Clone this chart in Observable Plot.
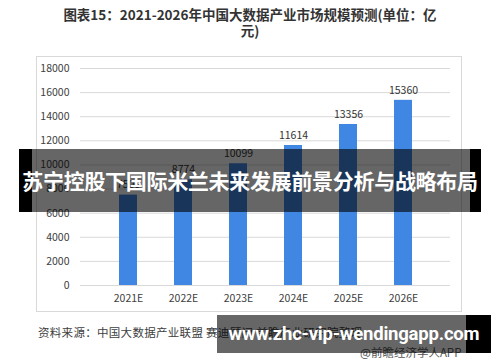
<!DOCTYPE html>
<html>
<head>
<meta charset="utf-8">
<script src="https://cdn.jsdelivr.net/npm/d3@7"></script>
<script src="https://cdn.jsdelivr.net/npm/@observablehq/plot@0.6"></script>
<style>
  html, body { margin: 0; padding: 0; background: #fff; }
  #wrap { position: relative; width: 500px; height: 362px; overflow: hidden; font-family: "Noto Sans CJK SC", "Noto Sans", sans-serif; }
  #wrap svg { position: absolute; left: 0; top: 0; }
  .abs { position: absolute; white-space: nowrap; }
  #title { left: 0; width: 500px; top: 6px; text-align: center; font-size: 13.5px; font-weight: bold; color: #333; line-height: 16px; }
  #box { left: 36px; top: 56px; width: 426px; height: 256px; border: 1px solid #d9d9d9; box-sizing: border-box; }
  #source { left: 38px; top: 324px; font-size: 11.5px; color: #404040; letter-spacing: 0.3px; }
  #app { left: 360px; top: 344px; font-size: 11.5px; color: #555; }
  #band1 { left: 19px; top: 149px; width: 462px; height: 63px; background: rgba(0,0,0,0.6); }
  #band1 .l { position: absolute; left: 0; top: 0; width: 13px; height: 63px; background: #000; }
  #band1 .r { position: absolute; right: 0; top: 0; width: 11px; height: 63px; background: #000; }
  #band1 .t { position: absolute; left: 0; width: 462px; top: 17px; text-align: center; color: #fff; font-weight: bold; font-size: 21px; line-height: 28px; letter-spacing: -0.3px; }
  #band2 { left: 217px; top: 315px; width: 274px; height: 38px; background: rgba(0,0,0,0.6); }
  #band2 .r { position: absolute; right: 0; top: 0; width: 25px; height: 38px; background: #000; }
  #band2 .t { position: absolute; left: 9px; width: 256px; top: 6px; text-align: center; color: #fff; font-weight: bold; font-size: 18.5px; line-height: 26px; letter-spacing: -0.2px; font-family: Roboto, "Liberation Sans", sans-serif; }
</style>
</head>
<body>
<div id="wrap">
  <div id="box" class="abs"></div>
  <div id="title" class="abs">图表15：2021-2026年中国大数据产业市场规模预测(单位：亿<br>元)</div>
  <div id="source" class="abs">资料来源：中国大数据产业联盟 赛迪顾问 前瞻产业研究院整理</div>
  <div id="app" class="abs">@前瞻经济学人APP</div>
</div>
<script>
const years = ["2021E", "2022E", "2023E", "2024E", "2025E", "2026E"];
const values = [7500, 8774, 10099, 11614, 13356, 15360];
const yTicks = [0, 2000, 4000, 6000, 8000, 10000, 12000, 14000, 16000, 18000];

const data = years.map((year, i) => ({year, value: values[i]}));

const chart = Plot.plot({
  width: 500,
  height: 362,
  marginLeft: 80,
  marginRight: 50,
  marginTop: 68,
  marginBottom: 77,
  style: { fontFamily: "'Noto Sans CJK SC', 'Noto Sans', sans-serif", fontSize: "10.5px", color: "#404040", background: "transparent" },
  x: { domain: years, padding: 0.676, label: null, tickSize: 0, tickPadding: 9 },
  y: { domain: [0, 18000], ticks: yTicks, label: null, tickSize: 0, tickPadding: 11, tickFormat: d => String(d) },
  marks: [
    Plot.gridY(yTicks, { stroke: "#d9d9d9", strokeOpacity: 1 }),
    Plot.barY(data, { x: "year", y: "value", fill: "#3f87e2" }),
    Plot.text(data, { x: "year", y: "value", text: d => String(d.value), dy: -10, fill: "#333", fontSize: 10.5 })
  ]
});
document.getElementById("wrap").appendChild(chart);

const b1 = document.createElement("div");
b1.id = "band1"; b1.className = "abs";
b1.innerHTML = '<div class="l"></div><div class="r"></div><div class="t">苏宁控股下国际米兰未来发展前景分析与战略布局</div>';
document.getElementById("wrap").appendChild(b1);
const b2 = document.createElement("div");
b2.id = "band2"; b2.className = "abs";
b2.innerHTML = '<div class="r"></div><div class="t">www.zhc-vip-wendingapp.com</div>';
document.getElementById("wrap").appendChild(b2);
</script>
</body>
</html>
